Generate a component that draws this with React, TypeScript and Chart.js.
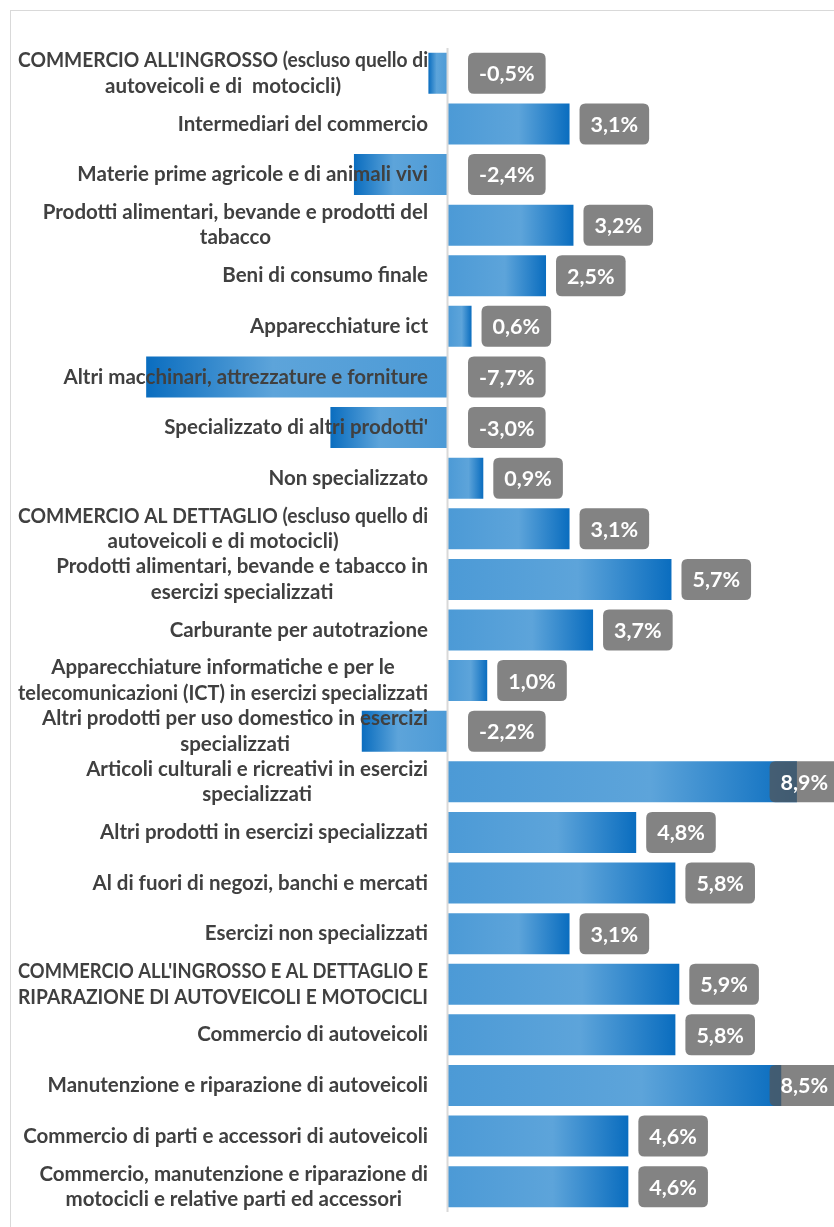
import React, { useEffect, useRef } from "react";
import { Chart, registerables } from "chart.js";

Chart.register(...registerables);

const categories: (string | string[])[] = [
  ["COMMERCIO ALL'INGROSSO (escluso quello di", "autoveicoli e di  motocicli)"],
  "Intermediari del commercio",
  "Materie prime agricole e di animali vivi",
  ["Prodotti alimentari, bevande e prodotti del", "tabacco"],
  "Beni di consumo finale",
  "Apparecchiature ict",
  "Altri macchinari, attrezzature e forniture",
  "Specializzato di altri prodotti'",
  "Non specializzato",
  ["COMMERCIO AL DETTAGLIO (escluso quello di", "autoveicoli e di motocicli)"],
  ["Prodotti alimentari, bevande e tabacco in", "esercizi specializzati"],
  "Carburante per autotrazione",
  ["Apparecchiature informatiche e per le", "telecomunicazioni (ICT) in esercizi specializzati"],
  ["Altri prodotti per uso domestico in esercizi", "specializzati"],
  ["Articoli culturali e ricreativi in esercizi", "specializzati"],
  "Altri prodotti in esercizi specializzati",
  "Al di fuori di negozi, banchi e mercati",
  "Esercizi non specializzati",
  ["COMMERCIO ALL'INGROSSO E AL DETTAGLIO E", "RIPARAZIONE DI AUTOVEICOLI E MOTOCICLI"],
  "Commercio di autoveicoli",
  "Manutenzione e riparazione di autoveicoli",
  "Commercio di parti e accessori di autoveicoli",
  ["Commercio, manutenzione e riparazione di", "motocicli e relative parti ed accessori"],
];

const values: number[] = [
  -0.5, 3.1, -2.4, 3.2, 2.5, 0.6, -7.7, -3.0, 0.9, 3.1, 5.7, 3.7, 1.0, -2.2, 8.9, 4.8, 5.8, 3.1, 5.9, 5.8, 8.5, 4.6, 4.6,
];

const valueLabels: string[] = values.map((v) => v.toFixed(1).replace(".", ",") + "%");

const LABEL_FONT = "bold 20.5px Lato, 'Open Sans', sans-serif";
const VALUE_FONT = "bold 21.5px Lato, 'Open Sans', sans-serif";
const LABEL_MAX_W = 410;

function roundRect(ctx: CanvasRenderingContext2D, x: number, y: number, w: number, h: number, r: number) {
  ctx.beginPath();
  ctx.moveTo(x + r, y);
  ctx.lineTo(x + w - r, y);
  ctx.quadraticCurveTo(x + w, y, x + w, y + r);
  ctx.lineTo(x + w, y + h - r);
  ctx.quadraticCurveTo(x + w, y + h, x + w - r, y + h);
  ctx.lineTo(x + r, y + h);
  ctx.quadraticCurveTo(x, y + h, x, y + h - r);
  ctx.lineTo(x, y + r);
  ctx.quadraticCurveTo(x, y, x + r, y);
  ctx.closePath();
}

const overlayPlugin = {
  id: "overlay",
  afterDatasetsDraw(chart: any) {
    const ctx: CanvasRenderingContext2D = chart.ctx;
    const xs = chart.scales.x;
    const ys = chart.scales.y;
    const area = chart.chartArea;
    const x0 = xs.getPixelForValue(0);

    // zero axis line
    ctx.save();
    ctx.strokeStyle = "#D9D9D9";
    ctx.lineWidth = 2;
    ctx.beginPath();
    ctx.moveTo(x0 - 0.5, area.top);
    ctx.lineTo(x0 - 0.5, area.bottom);
    ctx.stroke();
    ctx.restore();

    // category labels
    ctx.save();
    ctx.font = LABEL_FONT;
    ctx.fillStyle = "#404040";
    ctx.textBaseline = "middle";
    ctx.textAlign = "center";
    const right = x0 - 20;
    const lineH = 25.5;
    categories.forEach((cat, i) => {
      const lines = Array.isArray(cat) ? cat : [cat];
      const yc = ys.getPixelForValue(i);
      const maxW = Math.max(...lines.map((l) => Math.min(LABEL_MAX_W, ctx.measureText(l).width)));
      const cx = right - maxW / 2;
      lines.forEach((l, j) => {
        const y = yc + (j - (lines.length - 1) / 2) * lineH;
        ctx.fillText(l, cx, y, LABEL_MAX_W);
      });
    });
    ctx.restore();

    // value labels
    ctx.save();
    ctx.font = VALUE_FONT;
    ctx.textBaseline = "middle";
    ctx.textAlign = "center";
    const boxH = 41;
    const limit = area.right + 7;
    values.forEach((v, i) => {
      const txt = valueLabels[i];
      const tw = ctx.measureText(txt).width;
      const bw = tw + 22;
      const yc = ys.getPixelForValue(i);
      let left = v >= 0 ? xs.getPixelForValue(v) + 10 : x0 + 20;
      if (left + bw > limit) left = limit - bw;
      roundRect(ctx, left, yc - boxH / 2, bw, boxH, 6);
      ctx.fillStyle = "rgba(85,85,85,0.73)";
      ctx.fill();
      ctx.fillStyle = "#FFFFFF";
      ctx.fillText(txt, left + bw / 2, yc + 1);
    });
    ctx.restore();
  },
};

export default function App() {
  const ref = useRef<HTMLCanvasElement | null>(null);

  useEffect(() => {
    if (!ref.current) return;
    const chart = new Chart(ref.current, {
      type: "bar",
      data: {
        labels: categories.map((c) => (Array.isArray(c) ? c.join(" ") : c)),
        datasets: [
          {
            data: values,
            barPercentage: 0.81,
            categoryPercentage: 1,
            backgroundColor: (c: any) => {
              const chart = c.chart;
              const xs = chart.scales && chart.scales.x;
              if (!xs || c.type !== "data") return "#5BA3D9";
              const a = xs.getPixelForValue(0);
              const b = xs.getPixelForValue(values[c.dataIndex]);
              if (!isFinite(a) || !isFinite(b) || a === b) return "#5BA3D9";
              const g = chart.ctx.createLinearGradient(a, 0, b, 0);
              g.addColorStop(0, "#4C9AD6");
              g.addColorStop(0.58, "#5DA4DA");
              g.addColorStop(1, "#0A6DBF");
              return g;
            },
            borderWidth: 0,
          },
        ],
      },
      options: {
        indexAxis: "y",
        animation: false,
        responsive: false,
        maintainAspectRatio: false,
        layout: { padding: { left: 103.8, right: 1.8, top: 37, bottom: 15 } },
        plugins: { legend: { display: false }, tooltip: { enabled: false } },
        scales: {
          x: { type: "linear", min: -8.5, max: 9.8, display: false },
          y: { type: "category", display: false },
        },
      },
      plugins: [overlayPlugin],
    } as any);
    return () => chart.destroy();
  }, []);

  return (
    <div
      style={{
        position: "absolute",
        left: 10,
        top: 10,
        width: 824,
        height: 1217,
        borderTop: "1px solid #D9D9D9",
        borderLeft: "1px solid #D9D9D9",
        boxSizing: "border-box",
        overflow: "hidden",
        background: "#fff",
      }}
    >
      <canvas ref={ref} width={823} height={1216} style={{ display: "block", width: 823, height: 1216 }} />
    </div>
  );
}
